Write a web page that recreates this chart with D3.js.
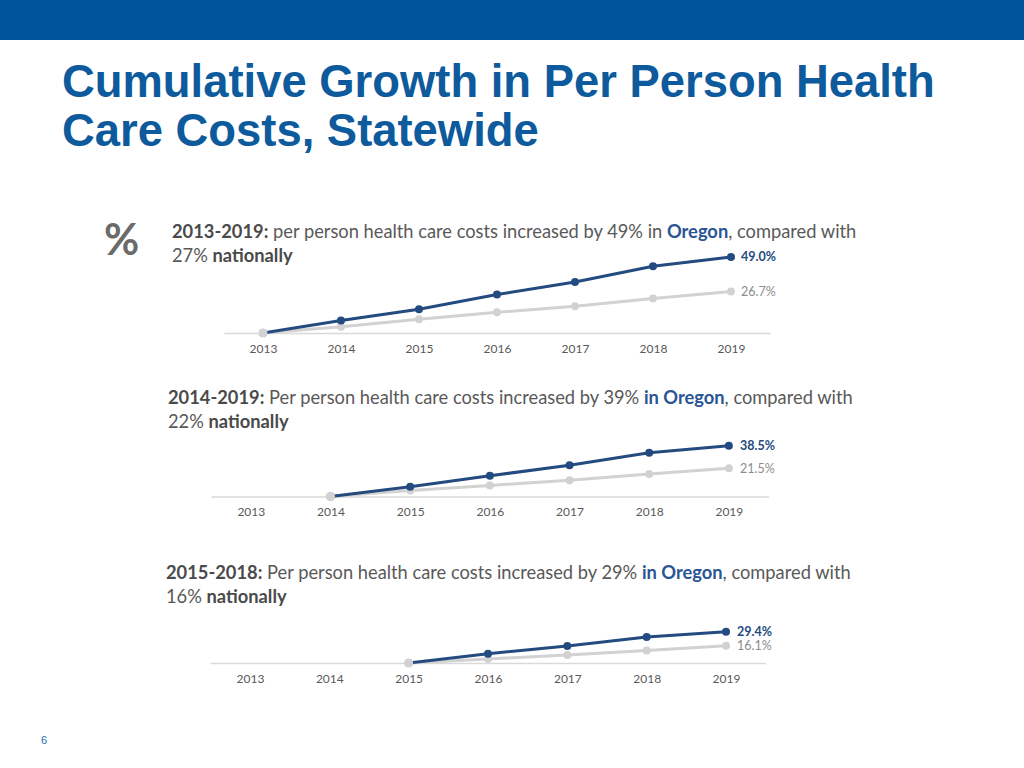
<!DOCTYPE html>
<html><head><meta charset="utf-8">
<script src="https://cdn.jsdelivr.net/npm/d3@7"></script>
<style>body{margin:0;background:#fff;}svg{display:block;}</style>
</head><body>
<script>
const years = ["2013","2014","2015","2016","2017","2018","2019"];
const oregon1 = [0, 8.0, 15.3, 24.8, 32.9, 43.0, 49.0];
const national1 = [0, 4.1, 8.8, 13.3, 17.2, 22.2, 26.7];
const oregon2 = [null, 0, 7.4, 15.7, 23.8, 33.2, 38.5];
const national2 = [null, 0, 4.6, 8.4, 12.4, 17.0, 21.5];
const oregon3 = [null, null, 0, 8.7, 15.9, 24.4, 29.4];
const national3 = [null, null, 0, 3.8, 7.5, 11.8, 16.1];
const endLabels = [["49.0%","26.7%"],["38.5%","21.5%"],["29.4%","16.1%"]];
const titleLines = ["Cumulative Growth in Per Person Health","Care Costs, Statewide"];
const subtitles = [
  [[["2013-2019:","b"],[" per person health care costs increased by 49% in ","n"],["Oregon","o"],[", compared with","n"]],[["27% ","n"],["nationally","b"]]],
  [[["2014-2019:","b"],[" Per person health care costs increased by 39% ","n"],["in Oregon","o"],[", compared with","n"]],[["22% ","n"],["nationally","b"]]],
  [[["2015-2018:","b"],[" Per person health care costs increased by 29% ","n"],["in Oregon","o"],[", compared with","n"]],[["16% ","n"],["nationally","b"]]]
];

const W=1024,H=768;
const svg=d3.select("body").append("svg").attr("width",W).attr("height",H);
const BLUE="#00559a", OR="#244b80", NAT="#d2d2d2", TXT="#595959";
const F="Lato, 'Open Sans', sans-serif";

svg.append("rect").attr("x",0).attr("y",0).attr("width",W).attr("height",40).attr("fill",BLUE);
svg.selectAll("text.title").data(titleLines).join("text").attr("class","title")
  .attr("x",62).attr("y",(d,i)=>97+i*49)
  .attr("font-family","'Liberation Sans', Arial, sans-serif").attr("font-weight","bold")
  .attr("font-size",45.4).attr("fill","#0d5a9c").text(d=>d);

svg.append("text").attr("x",104).attr("y",255).attr("font-family",F).attr("font-weight","bold")
  .attr("font-size",43).attr("fill","#6b6b6b").text("%");

svg.append("text").attr("x",44).attr("y",744).attr("font-family","'Liberation Sans', Arial, sans-serif")
  .attr("font-size",11).attr("fill","#2b6cb0").attr("text-anchor","middle").text("6");

const panels=[
  {or:oregon1,na:national1,xr:[224,770],y0:333,dom:50,px:77.6,tx:172,ty:[238,262],lx:741,ly:[257,292]},
  {or:oregon2,na:national2,xr:[211,768.7],y0:496.5,dom:40,px:52.7,tx:168,ty:[404,428],lx:740,ly:[446,469]},
  {or:oregon3,na:national3,xr:[210.3,765.7],y0:663,dom:30,px:32,tx:166,ty:[579,603],lx:737,ly:[632,647]}
];

panels.forEach((p,pi)=>{
  const x=d3.scalePoint().domain(years).range(p.xr).padding(0.5);
  const y=d3.scaleLinear().domain([0,p.dom]).range([p.y0,p.y0-p.px]);
  const g=svg.append("g");
  subtitles[pi].forEach((line,li)=>{
    const t=g.append("text").attr("x",p.tx).attr("y",p.ty[li]).attr("font-family",F).attr("font-size",18.3);
    line.forEach(([s,k])=>{
      t.append("tspan").text(s)
        .attr("font-weight",k==="n"?"normal":"bold")
        .attr("fill",k==="o"?"#2a5595":(k==="b"?"#4a4a4a":TXT));
    });
  });
  const ax=g.append("g").attr("transform",`translate(0,${p.y0})`)
    .call(d3.axisBottom(x).tickSize(0).tickPadding(11).tickSizeOuter(0));
  ax.select(".domain").attr("stroke","#d9d9d9").attr("stroke-width",1.5);
  ax.selectAll("text").attr("font-family",F).attr("font-size",12).attr("fill",TXT);
  const line=d3.line().defined(d=>d.v!=null).x(d=>x(d.k)).y(d=>y(d.v));
  [[p.na,NAT],[p.or,OR]].forEach(([arr,c])=>{
    const data=years.map((k,i)=>({k,v:arr[i]}));
    g.append("path").datum(data).attr("d",line).attr("fill","none").attr("stroke",c).attr("stroke-width",3);
    g.selectAll(null).data(data.filter(d=>d.v!=null)).join("circle")
      .attr("cx",d=>x(d.k)).attr("cy",d=>y(d.v)).attr("r",4).attr("fill",c);
  });
  const first=years.findIndex((k,i)=>p.or[i]!=null);
  g.append("circle").attr("cx",x(years[first])).attr("cy",y(0)).attr("r",4.5).attr("fill",NAT);
  [[p.or,OR,"bold"],[p.na,"#8c8c8c","normal"]].forEach(([arr,c,w],j)=>{
    g.append("text").attr("x",p.lx).attr("y",y(arr[6])).attr("dy","0.35em")
      .attr("font-family",F).attr("font-size",12.5).attr("font-weight",w).attr("fill",c)
      .text(endLabels[pi][j]);
  });
});
</script>
</body></html>
